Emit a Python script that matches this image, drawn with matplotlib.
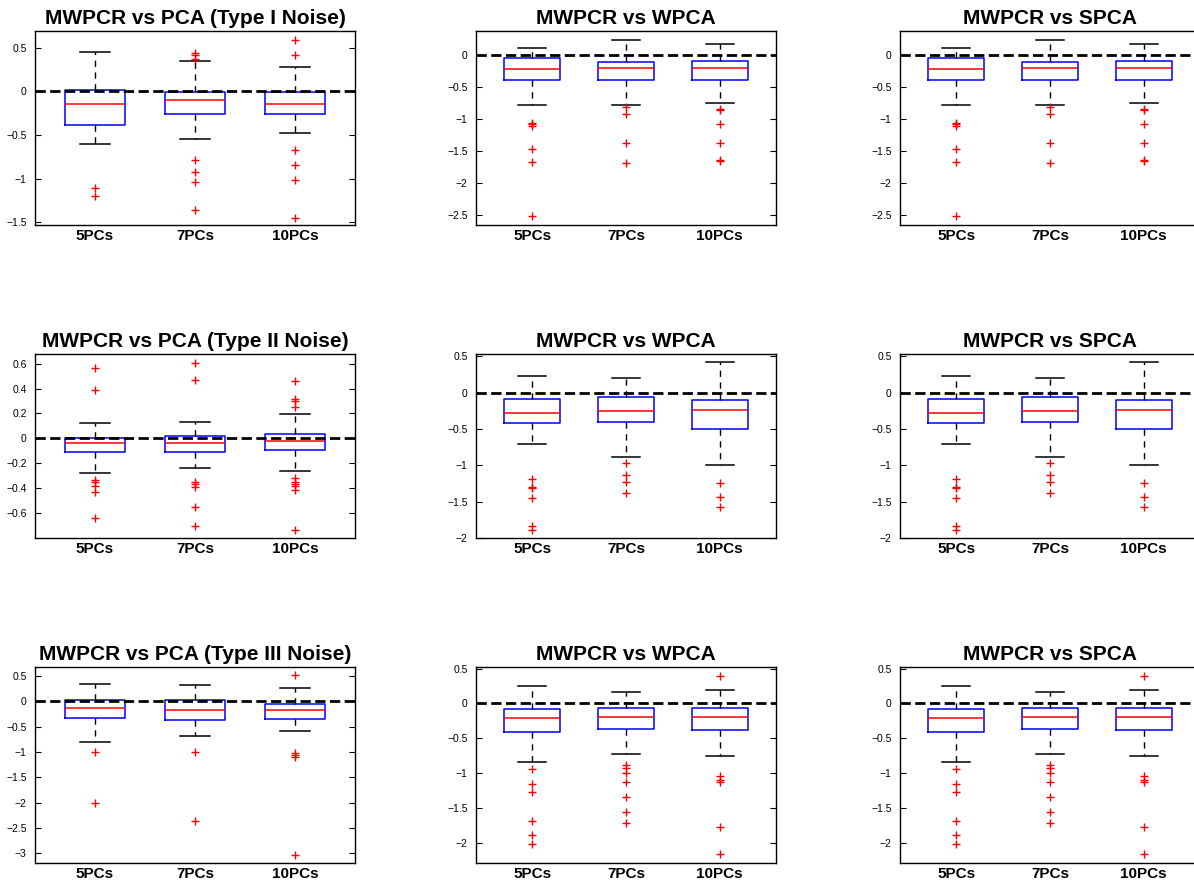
import matplotlib
matplotlib.use('Agg')
import matplotlib.pyplot as plt
from matplotlib.ticker import FuncFormatter

plt.rcParams['font.family'] = ['Liberation Sans', 'DejaVu Sans']

labels = ['5PCs', '7PCs', '10PCs']

# box stats per group: [whisker low, q1, median, q3, whisker high]
# --- row 1: Type I noise ---
pca1_stats = [[-0.60, -0.38, -0.146, 0.01, 0.446],
              [-0.546, -0.258, -0.096, -0.01, 0.35],
              [-0.477, -0.265, -0.15, -0.004, 0.277]]
pca1_fliers = [[-1.11, -1.20],
               [0.44, 0.415, 0.37, -0.785, -0.923, -1.04, -1.36],
               [0.59, 0.42, -0.677, -0.838, -1.015, -1.446]]

wpca1_stats = [[-0.776, -0.39, -0.224, -0.04, 0.115],
               [-0.776, -0.396, -0.198, -0.115, 0.24],
               [-0.745, -0.396, -0.203, -0.099, 0.172]]
wpca1_fliers = [[-1.057, -1.083, -1.11, -1.47, -1.667, -2.52],
                [-0.807, -0.927, -1.38, -1.69],
                [-0.844, -0.865, -1.073, -1.37, -1.646, -1.66]]

# --- row 2: Type II noise ---
pca2_stats = [[-0.28, -0.11, -0.035, 0.005, 0.124],
              [-0.242, -0.11, -0.035, 0.019, 0.129],
              [-0.261, -0.094, -0.024, 0.032, 0.199]]
pca2_fliers = [[0.565, 0.393, -0.334, -0.353, -0.388, -0.436, -0.646],
               [0.611, 0.474, -0.353, -0.366, -0.393, -0.555, -0.711],
               [0.463, 0.318, 0.304, 0.256, -0.32, -0.353, -0.366, -0.388, -0.415, -0.738]]

wpca2_stats = [[-0.714, -0.419, -0.281, -0.088, 0.23],
               [-0.88, -0.406, -0.249, -0.06, 0.198],
               [-0.991, -0.498, -0.235, -0.097, 0.417]]
wpca2_fliers = [[-1.184, -1.295, -1.313, -1.452, -1.834, -1.889],
                [-0.968, -1.129, -1.235, -1.387],
                [-1.244, -1.442, -1.567]]

# --- row 3: Type III noise ---
pca3_stats = [[-0.80, -0.336, -0.132, 0.02, 0.349],
              [-0.69, -0.368, -0.178, 0.02, 0.322],
              [-0.579, -0.342, -0.178, -0.059, 0.27]]
pca3_fliers = [[-1.0, -2.01],
               [-1.0, -2.37],
               [0.513, -1.02, -1.06, -1.10, -3.03]]

wpca3_stats = [[-0.843, -0.414, -0.214, -0.086, 0.248],
               [-0.724, -0.367, -0.2, -0.067, 0.171],
               [-0.752, -0.376, -0.2, -0.071, 0.195]]
wpca3_fliers = [[-0.943, -1.152, -1.271, -1.681, -1.895, -2.024],
                [-0.88, -0.919, -1.0, -1.124, -1.338, -1.562, -1.714],
                [0.395, -1.048, -1.1, -1.124, -1.771, -2.167]]

# SPCA comparison shows the same values as WPCA
spca1_stats, spca1_fliers = wpca1_stats, wpca1_fliers
spca2_stats, spca2_fliers = wpca2_stats, wpca2_fliers
spca3_stats, spca3_fliers = wpca3_stats, wpca3_fliers

titles = [['MWPCR vs PCA (Type I Noise)', 'MWPCR vs WPCA', 'MWPCR vs SPCA'],
          ['MWPCR vs PCA (Type II Noise)', 'MWPCR vs WPCA', 'MWPCR vs SPCA'],
          ['MWPCR vs PCA (Type III Noise)', 'MWPCR vs WPCA', 'MWPCR vs SPCA']]
all_stats = [[pca1_stats, wpca1_stats, spca1_stats],
             [pca2_stats, wpca2_stats, spca2_stats],
             [pca3_stats, wpca3_stats, spca3_stats]]
all_fliers = [[pca1_fliers, wpca1_fliers, spca1_fliers],
              [pca2_fliers, wpca2_fliers, spca2_fliers],
              [pca3_fliers, wpca3_fliers, spca3_fliers]]
ylims = [[(-1.53, 0.69), (-2.656, 0.375), (-2.656, 0.375)],
         [(-0.805, 0.68), (-2.0, 0.53), (-2.0, 0.53)],
         [(-3.19, 0.68), (-2.29, 0.524), (-2.29, 0.524)]]
yticks = [[[-1.5, -1, -0.5, 0, 0.5], [-2.5, -2, -1.5, -1, -0.5, 0], [-2.5, -2, -1.5, -1, -0.5, 0]],
          [[-0.6, -0.4, -0.2, 0, 0.2, 0.4, 0.6], [-2, -1.5, -1, -0.5, 0, 0.5], [-2, -1.5, -1, -0.5, 0, 0.5]],
          [[-3, -2.5, -2, -1.5, -1, -0.5, 0, 0.5], [-2, -1.5, -1, -0.5, 0, 0.5], [-2, -1.5, -1, -0.5, 0, 0.5]]]

W, H = 1194, 881
col_x = [(35, 320), (476, 300), (900, 300)]          # left, width in px
row_y = [(31, 225), (354, 538), (667, 863)]          # top, bottom in px

fmt = FuncFormatter(lambda v, p: ('%g' % v).replace('-', '\u2212'))

fig = plt.figure(figsize=(W / 100, H / 100), dpi=100)

for r in range(3):
    for c in range(3):
        left, width = col_x[c]
        top, bottom = row_y[r]
        ax = fig.add_axes([left / W, (H - bottom) / H, width / W, (bottom - top) / H])

        bstats = []
        for lab, s, f in zip(labels, all_stats[r][c], all_fliers[r][c]):
            bstats.append(dict(label=lab, whislo=s[0], q1=s[1], med=s[2],
                               q3=s[3], whishi=s[4], fliers=f))
        ax.bxp(bstats, positions=[1, 2, 3], widths=0.6,
               boxprops=dict(color='b', lw=1.1),
               whiskerprops=dict(color='k', lw=1, dashes=(4.5, 4)),
               capprops=dict(color='k', lw=1.1),
               medianprops=dict(color='r', lw=1.1),
               flierprops=dict(marker='+', markeredgecolor='r', markersize=5.5,
                               markeredgewidth=1, linestyle='none'))
        ax.axhline(0, color='k', ls='--', lw=2, zorder=5)

        ax.set_xlim(0.4, 3.6)
        ax.set_ylim(*ylims[r][c])
        ax.set_yticks(yticks[r][c])
        ax.yaxis.set_major_formatter(fmt)
        ax.set_xticks([1, 2, 3])
        ax.set_xticklabels(labels, fontsize=11, fontweight='bold')
        ax.tick_params(axis='x', length=0, pad=3)
        ax.tick_params(axis='y', direction='in', length=4, right=True,
                       labelsize=7.5, pad=6)
        for sp in ax.spines.values():
            sp.set_linewidth(1.0)
        ax.set_title(titles[r][c], fontsize=15, fontweight='bold', pad=5)

fig.savefig('out.png', dpi=100)
